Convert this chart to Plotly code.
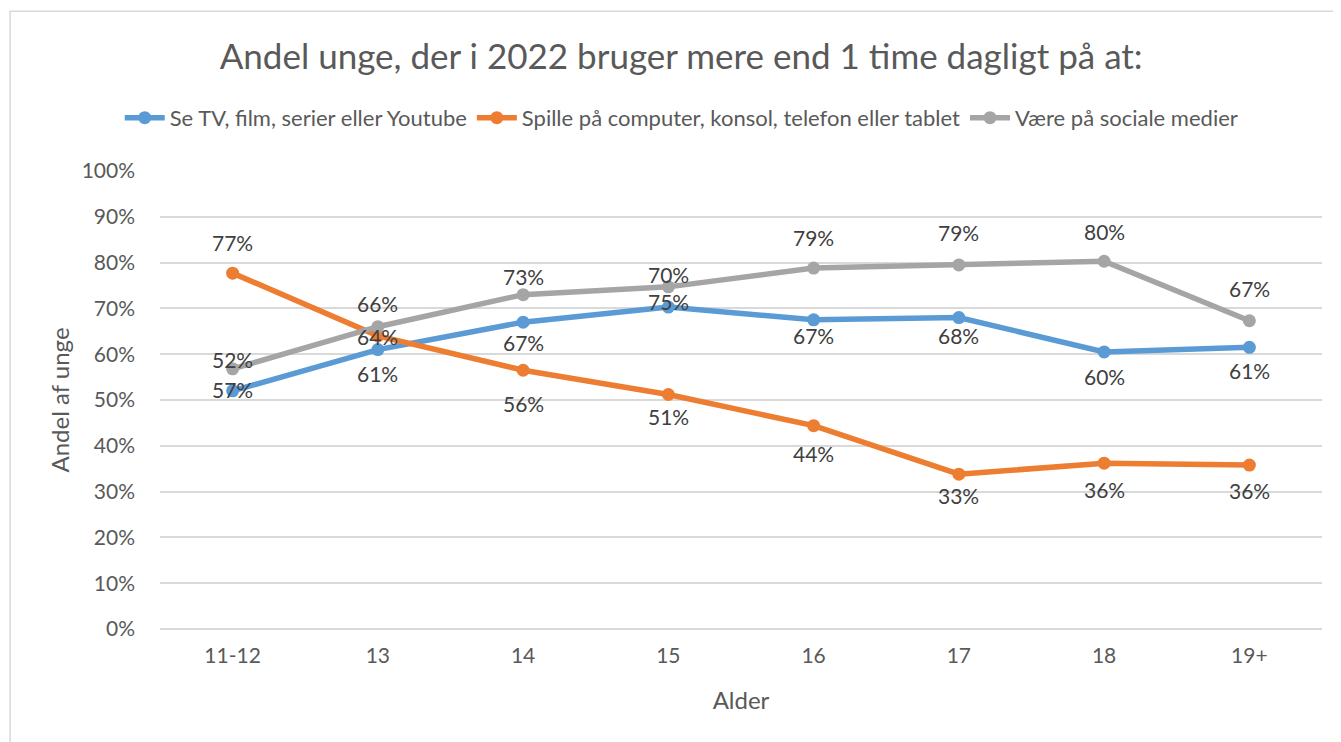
import plotly.graph_objects as go

categories = ["11-12", "13", "14", "15", "16", "17", "18", "19+"]

tv_values = [52, 61, 67, 70.3, 67.5, 68, 60.5, 61.5]
spil_values = [77.7, 64, 56.5, 51.2, 44.4, 33.8, 36.2, 35.8]
sociale_values = [56.8, 66, 73, 74.7, 78.8, 79.5, 80.3, 67.3]

tv_labels = ["57%", "61%", "67%", "75%", "67%", "68%", "60%", "61%"]
spil_labels = ["77%", "64%", "56%", "51%", "44%", "33%", "36%", "36%"]
sociale_labels = ["52%", "66%", "73%", "70%", "79%", "79%", "80%", "67%"]

series_names = [
    "Se TV, film, serier eller Youtube",
    "Spille på computer, konsol, telefon eller tablet",
    "Være på sociale medier",
]

# label offsets in pixels (style)
tv_shift = [1, -24, -20, 6, -16, -18, -25, -23]
spil_shift = [31, -1, -33, -22, -28, -21, -26, -25]
sociale_shift = [9, 23, 18, 12, 31, 32, 30, 32]

colors = ["#5B9BD5", "#ED7D31", "#A5A5A5"]
font_family = "Lato, 'Open Sans', sans-serif"
text_color = "#595959"

fig = go.Figure()
all_values = [tv_values, spil_values, sociale_values]
all_labels = [tv_labels, spil_labels, sociale_labels]
all_shifts = [tv_shift, spil_shift, sociale_shift]

for name, vals, col in zip(series_names, all_values, colors):
    fig.add_trace(go.Scatter(
        x=categories, y=[v / 100 for v in vals], name=name,
        mode="lines+markers",
        line=dict(color=col, width=5.5),
        marker=dict(color=col, size=13),
    ))

annotations = []
for vals, labs, shifts in zip(all_values, all_labels, all_shifts):
    for i, (v, l, s) in enumerate(zip(vals, labs, shifts)):
        annotations.append(dict(
            x=i, y=v / 100, text=l, showarrow=False, yshift=s,
            xref="x", yref="y",
            font=dict(size=21, color="#404040", family=font_family),
        ))

fig.update_layout(
    width=1333, height=734,
    paper_bgcolor="white", plot_bgcolor="white",
    margin=dict(l=152, r=19, t=163, b=113, autoexpand=False),
    title=dict(
        text="Andel unge, der i 2022 bruger mere end 1 time dagligt på at:",
        x=0.505, xref="container", xanchor="center",
        y=1 - 49 / 734, yref="container", yanchor="middle",
        font=dict(size=35, color=text_color, family=font_family),
    ),
    legend=dict(
        orientation="h", x=0.449, xanchor="center", y=1.116, yanchor="middle",
        font=dict(size=22, color=text_color, family=font_family),
        itemwidth=40, tracegroupgap=0,
    ),
    annotations=annotations,
    showlegend=True,
    shapes=[dict(
        type="rect", xref="paper", yref="paper",
        x0=-0.129, x1=1.2, y0=-0.5, y1=1.349,
        line=dict(color="#D9D9D9", width=1.5), fillcolor="rgba(0,0,0,0)",
        layer="below",
    )],
)

fig.update_xaxes(
    type="category", range=[-0.5, 7.5],
    showgrid=False, showline=False, zeroline=False,
    ticks="", ticklabelstandoff=12,
    tickfont=dict(size=21, color=text_color, family=font_family),
    title=dict(text="Alder", standoff=26,
               font=dict(size=24, color=text_color, family=font_family)),
)
fig.update_yaxes(
    range=[0, 1], tickvals=[i / 10 for i in range(11)],
    tickformat=".0%",
    showgrid=True, gridcolor="#D9D9D9", gridwidth=1.5,
    zeroline=True, zerolinecolor="#D9D9D9", zerolinewidth=1.5,
    showline=False, ticks="", ticklabelstandoff=24,
    tickfont=dict(size=21, color=text_color, family=font_family),
    title=dict(text="Andel af unge", standoff=5,
               font=dict(size=24, color=text_color, family=font_family)),
)

fig.write_html("out.html")
